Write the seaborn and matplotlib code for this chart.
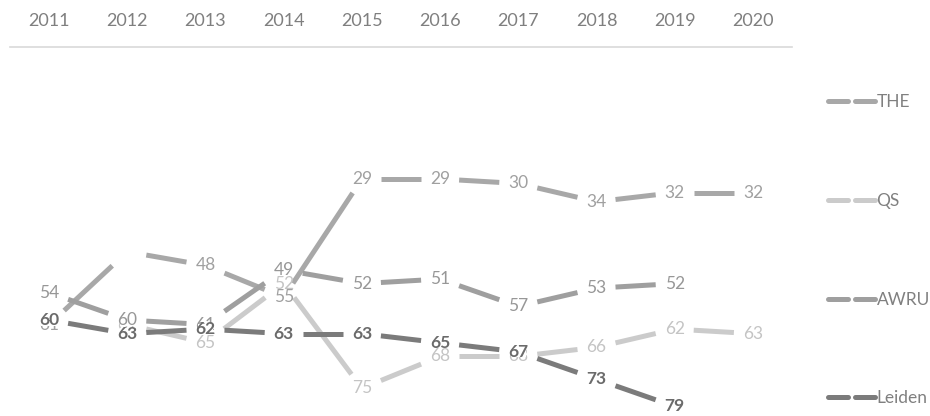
import numpy as np
import pandas as pd
import matplotlib.pyplot as plt
import seaborn as sns
from matplotlib.lines import Line2D

# Ranking data (lower = better)
years = [2011, 2012, 2013, 2014, 2015, 2016, 2017, 2018, 2019, 2020]
the_rank = [61, 45, 48, 55, 29, 29, 30, 34, 32, 32]
qs_rank = [np.nan, 61, 65, 52, 75, 68, 68, 66, 62, 63]
awru_rank = [54, 60, 61, 49, 52, 51, 57, 53, 52, np.nan]
leiden_rank = [60, 63, 62, 63, 63, 65, 67, 73, 79, np.nan]

series = ['THE', 'QS', 'AWRU', 'Leiden']
line_colors = ['#a8a8a8', '#cbcbcb', '#9f9f9f', '#7b7b7b']
label_colors = ['#a0a0a0', '#c4c4c4', '#979797', '#6b6b6b']
label_weights = ['normal', 'normal', 'normal', 'bold']
# the 2012 THE label is blank in the original
hidden_labels = {('THE', 2012)}

df = pd.DataFrame({'year': years, 'THE': the_rank, 'QS': qs_rank,
                   'AWRU': awru_rank, 'Leiden': leiden_rank})
long_df = df.melt(id_vars='year', var_name='source', value_name='rank').dropna()

sns.set_theme(style='white')
plt.rcParams['font.family'] = ['Lato', 'DejaVu Sans']

fig = plt.figure(figsize=(9.3, 4.16), dpi=100)
ax = fig.add_axes([10 / 930, 5 / 416, 782 / 930, 364 / 416])
ax.set_xlim(2010.5, 2020.5)
ax.set_ylim(80, 0)

# lines stop short of each point, leaving room for the label (half box in px)
gap_w, gap_h = 19, 14
to_px = ax.transData
to_data = ax.transData.inverted()
seg_rows = []
seg_id = 0
for name in series:
    sub = long_df[long_df['source'] == name]
    pts = to_px.transform(sub[['year', 'rank']].to_numpy(dtype=float))
    for p0, p1 in zip(pts[:-1], pts[1:]):
        d = p1 - p0
        t = min(gap_w / abs(d[0]) if d[0] else np.inf,
                gap_h / abs(d[1]) if d[1] else np.inf)
        a, b = to_data.transform([p0 + t * d, p1 - t * d])
        seg_rows.append((name, seg_id, a[0], a[1]))
        seg_rows.append((name, seg_id, b[0], b[1]))
        seg_id += 1
seg_df = pd.DataFrame(seg_rows, columns=['source', 'seg', 'x', 'y'])

sns.lineplot(data=seg_df, x='x', y='y', hue='source', hue_order=series,
             units='seg', estimator=None, sort=False,
             palette=dict(zip(series, line_colors)), linewidth=3.6,
             legend=False, ax=ax)
for ln in ax.lines:
    ln.set_solid_capstyle('butt')

# data labels, with tight white backgrounds so later ones cover earlier ones
for i, name in enumerate(series):
    sub = long_df[long_df['source'] == name]
    for yr, val in zip(sub['year'], sub['rank']):
        if (name, yr) in hidden_labels:
            continue
        ax.text(yr, val, f'{int(val)}', ha='center', va='center',
                fontsize=12.5, fontweight=label_weights[i],
                color=label_colors[i], zorder=3 + i,
                bbox=dict(boxstyle='square,pad=-0.14', fc='white', ec='none'))

ax.set_xticks(years)
ax.set_xticklabels([str(y) for y in years])
ax.xaxis.tick_top()
ax.tick_params(axis='x', length=0, pad=13, labelsize=13, labelcolor='#7f7f7f')
ax.set_yticks([])
ax.set_xlabel('')
ax.set_ylabel('')
for s in ['left', 'right', 'bottom']:
    ax.spines[s].set_visible(False)
ax.spines['top'].set_color('#d9d9d9')
ax.spines['top'].set_linewidth(1.2)

handles = [Line2D([0], [0], color=c, lw=3.6, dashes=(4.0, 1.4),
                  dash_capstyle='round') for c in line_colors]
leg = fig.legend(handles, series, loc='upper left',
                 bbox_to_anchor=(828 / 930, 1 - 94 / 416), frameon=False,
                 fontsize=12.5, handlelength=2.7, handletextpad=0.1,
                 labelspacing=4.77, borderpad=0, borderaxespad=0)
for t in leg.get_texts():
    t.set_color('#808080')

fig.savefig('out.png', dpi=100)
